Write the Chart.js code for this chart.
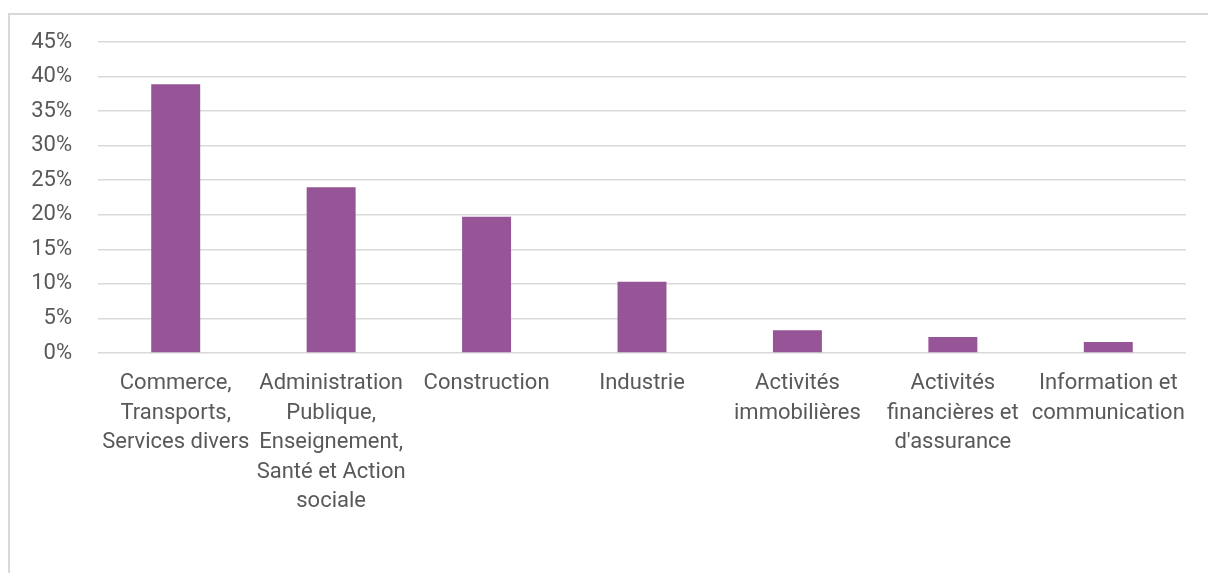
<!DOCTYPE html>
<html>
<head>
<meta charset="utf-8">
<script src="https://cdn.jsdelivr.net/npm/chart.js@4"></script>
<style>
  html, body { margin: 0; padding: 0; background: #fff; overflow: hidden; }
  #frame {
    position: absolute; left: 8px; top: 13px; width: 1220px; height: 580px;
    border: 2px solid #d9d9d9; box-sizing: border-box;
  }
  #wrap { position: absolute; left: 0; top: 0; width: 1208px; height: 573px; }
</style>
</head>
<body>
<div id="frame"></div>
<div id="wrap"><canvas id="sectorChart" width="1208" height="573"></canvas></div>
<script>
// categories (split over lines like the original)
const categories = [
    ['Commerce,', 'Transports,', 'Services divers'],
    ['Administration', 'Publique,', 'Enseignement,', 'Santé et Action', 'sociale'],
    ['Construction'],
    ['Industrie'],
    ['Activités', 'immobilières'],
    ['Activités', 'financières et', "d'assurance"],
    ['Information et', 'communication']
];

// share of each sector, in %
const shares = [38.9, 24.0, 19.7, 10.3, 3.3, 2.3, 1.6];

// y axis
const yMin = 0;
const yMax = 45;
const yStep = 5;

const textColor = '#595959';
const gridColor = '#d9d9d9';
const barColor = '#955596';

const ctx = document.getElementById('sectorChart').getContext('2d');

new Chart(ctx, {
    type: 'bar',
    data: {
        labels: categories,
        datasets: [{
            label: 'Part',
            data: shares,
            backgroundColor: barColor,
            borderWidth: 0,
            barPercentage: 0.315,
            categoryPercentage: 1
        }]
    },
    options: {
        responsive: false,
        animation: false,
        layout: { padding: { top: 42, right: 22, bottom: 0, left: 0 } },
        plugins: {
            legend: { display: false },
            tooltip: { enabled: false }
        },
        scales: {
            x: {
                grid: { display: false },
                border: { display: false },
                ticks: {
                    color: textColor,
                    font: { family: 'Roboto', size: 22, lineHeight: 1.34 },
                    maxRotation: 0,
                    autoSkip: false,
                    padding: 8
                },
                afterFit: (scale) => { scale.height = 220; }
            },
            y: {
                min: yMin,
                max: yMax,
                grid: { color: gridColor, lineWidth: 1.5, drawTicks: false },
                border: { display: false },
                ticks: {
                    stepSize: yStep,
                    color: textColor,
                    font: { family: 'Roboto', size: 22 },
                    padding: 26,
                    callback: (v) => v + '%'
                },
                afterFit: (scale) => { scale.width = 98; }
            }
        }
    }
});
</script>
</body>
</html>
